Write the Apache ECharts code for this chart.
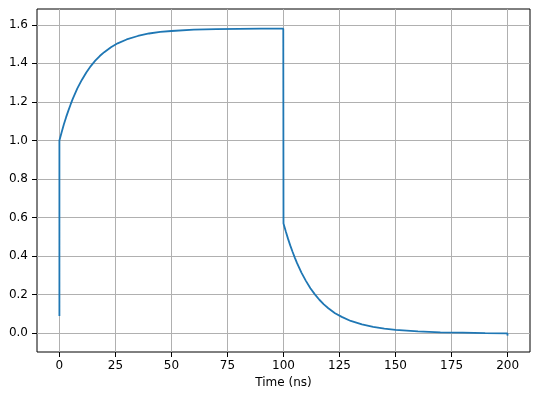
<!DOCTYPE html>
<html>
<head>
<meta charset="utf-8">
<script src="https://cdn.jsdelivr.net/npm/echarts@6/dist/echarts.min.js"></script>
<style>
html,body{margin:0;padding:0;background:#fff;}
#c{width:540px;height:399px;}
</style>
</head>
<body>
<div id="c"></div>
<script>
// Time (ns)
var timeValues = [0, 0, 1, 2, 3, 4, 5, 6, 8, 10, 12, 14, 16, 18, 20, 23, 26, 30, 35, 40, 45, 50, 60, 70, 80, 90, 99.9,
  100, 100, 100, 101, 102, 103, 104, 105, 106, 108, 110, 112, 114, 116, 118, 120, 123, 126, 130, 135, 140, 145, 150, 160, 170, 180, 190, 199.9, 200, 200];
// Signal value
var signalValues = [0.09, 1.0, 1.043, 1.084, 1.121, 1.155, 1.187, 1.217, 1.270, 1.314, 1.353, 1.386, 1.414, 1.438, 1.458, 1.484, 1.504, 1.524, 1.542, 1.555, 1.563, 1.568, 1.575, 1.578, 1.579, 1.580, 1.580,
  1.590, 1.580, 0.57, 0.529, 0.491, 0.456, 0.424, 0.394, 0.365, 0.315, 0.272, 0.234, 0.202, 0.174, 0.150, 0.130, 0.104, 0.085, 0.064, 0.046, 0.033, 0.024, 0.018, 0.010, 0.005, 0.003, 0.001, 0.0, 0.008, -0.012];
var xTicks = [0, 25, 50, 75, 100, 125, 150, 175, 200];
var yTicks = [0.0, 0.2, 0.4, 0.6, 0.8, 1.0, 1.2, 1.4, 1.6];
var xName = 'Time (ns)';

var data = timeValues.map(function (t, i) { return [t, signalValues[i]]; });
var font = 'DejaVu Sans';
var chart = echarts.init(document.getElementById('c'), null, {renderer: 'canvas'});
chart.setOption({
  animation: false,
  backgroundColor: '#fff',
  grid: {left: 37, top: 9, right: 10, bottom: 47, show: true, borderColor: '#000', borderWidth: 1, backgroundColor: 'transparent'},
  xAxis: {
    type: 'value', min: -10, max: 210,
    name: xName, nameLocation: 'middle', nameGap: 25,
    nameTextStyle: {color: '#000', fontFamily: font, fontSize: 12},
    axisLine: {show: false, onZero: false},
    axisTick: {show: true, length: 5, lineStyle: {color: '#000', width: 1}, customValues: xTicks},
    axisLabel: {color: '#000', fontFamily: font, fontSize: 12, margin: 8, customValues: xTicks,
      formatter: function (v) { return String(v); }},
    splitLine: {show: true, lineStyle: {color: '#b0b0b0', width: 1}}
  },
  yAxis: {
    type: 'value', min: -0.097, max: 1.682,
    axisLine: {show: false, onZero: false},
    axisTick: {show: true, length: 5, lineStyle: {color: '#000', width: 1}, customValues: yTicks},
    axisLabel: {color: '#000', fontFamily: font, fontSize: 12, margin: 9, customValues: yTicks,
      formatter: function (v) { return v.toFixed(1); }},
    splitLine: {show: true, lineStyle: {color: '#b0b0b0', width: 1}}
  },
  series: [{
    type: 'line', data: data, showSymbol: false, symbol: 'none',
    lineStyle: {color: '#1f77b4', width: 1.8}, z: 3
  }]
});
</script>
</body>
</html>
